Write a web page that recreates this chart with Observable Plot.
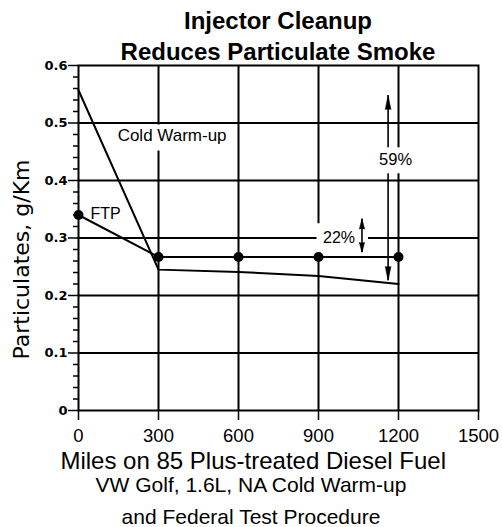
<!DOCTYPE html>
<html>
<head>
<meta charset="utf-8">
<script src="https://cdn.jsdelivr.net/npm/d3@7"></script>
<script src="https://cdn.jsdelivr.net/npm/@observablehq/plot@0.6"></script>
<style>
  html, body { margin: 0; padding: 0; background: white; }
  #wrap { position: relative; width: 502px; }
  #title { position: absolute; top: 6.3px; left: 78px; width: 400px; text-align: center;
    font-family: "Liberation Sans", Arial, sans-serif; font-weight: bold; font-size: 24px;
    line-height: 30.7px; color: black; z-index: 2; white-space: nowrap; }
  #chart svg { display: block; }
  #caption { width: 502px; text-align: center; font-family: "Liberation Sans", Arial, sans-serif;
    font-size: 21px; line-height: 31.6px; color: black; }
</style>
</head>
<body>
<div id="wrap">
  <div id="title">Injector Cleanup<br>Reduces Particulate Smoke</div>
  <div id="chart"></div>
  <div id="caption">VW Golf, 1.6L, NA Cold Warm-up<br>and Federal Test Procedure</div>
</div>
<script>
// ---- data ----
const ftpMiles = [0, 300, 600, 900, 1200];
const ftpValues = [0.340, 0.267, 0.267, 0.267, 0.267];
const coldMiles = [0, 300, 600, 900, 1200];
const coldValues = [0.557, 0.245, 0.241, 0.234, 0.220];

const xTicks = [0, 300, 600, 900, 1200, 1500];
const xTickLabels = ["0", "300", "600", "900", "1200", "1500"];
const yTicks = [0, 0.1, 0.2, 0.3, 0.4, 0.5, 0.6];
const yTickLabels = ["0", "0.1", "0.2", "0.3", "0.4", "0.5", "0.6"];
const yMinorTicks = [0.02, 0.04, 0.06, 0.08, 0.12, 0.14, 0.16, 0.18, 0.22, 0.24, 0.26, 0.28,
  0.32, 0.34, 0.36, 0.38, 0.42, 0.44, 0.46, 0.48, 0.52, 0.54, 0.56, 0.58];
const gridX = [300, 600, 900, 1200];
const gridY = [0.1, 0.2, 0.3, 0.4, 0.5];

const seriesLabelText = ["Cold Warm-up", "FTP"];
const seriesLabelX = [351, 45];
const seriesLabelY = [0.479, 0.342];

const reductionText = ["22%", "59%"];
const reductionX = [977, 1189];
const reductionY = [0.301, 0.436];

// arrows: [miles, low value, high value]
const arrow59 = {x: 1161, low: 0.226, high: 0.548};
const arrow22 = {x: 1063, low: 0.275, high: 0.333};

const xLabel = "Miles on 85 Plus-treated Diesel Fuel";
const yLabel = "Particulates, g/Km";

// ---- tables ----
const ftp = ftpMiles.map((m, i) => ({miles: m, value: ftpValues[i]}));
const cold = coldMiles.map((m, i) => ({miles: m, value: coldValues[i]}));
const coldLabel = [{text: seriesLabelText[0], x: seriesLabelX[0], y: seriesLabelY[0]}];
const ftpLabel = [{text: seriesLabelText[1], x: seriesLabelX[1], y: seriesLabelY[1]}];
const lab22 = [{text: reductionText[0], x: reductionX[0], y: reductionY[0]}];
const lab59 = [{text: reductionText[1], x: reductionX[1], y: reductionY[1]}];
const heads = (a) => [{x: a.x, y: a.high, rot: 0}, {x: a.x, y: a.low, rot: 180}];

const box = (data, l, r, t, b) => Plot.rect(data, {
  x1: "x", x2: "x", y1: "y", y2: "y", fill: "white",
  insetLeft: -l, insetRight: -r, insetTop: -t, insetBottom: -b
});

const chart = Plot.plot({
  width: 502, height: 469,
  marginTop: 65, marginBottom: 59, marginLeft: 78, marginRight: 24,
  style: {fontFamily: "'Liberation Sans', Arial, sans-serif", background: "transparent", overflow: "visible", color: "black"},
  x: {domain: [0, 1500]},
  y: {domain: [0, 0.6]},
  marks: [
    Plot.ruleY(gridY, {stroke: "black", strokeWidth: 2}),
    Plot.ruleX(gridX, {stroke: "black", strokeWidth: 2}),
    // 59% arrow (shaft broken by its label box)
    Plot.ruleX([arrow59], {x: "x", y1: "low", y2: "high", stroke: "black", strokeWidth: 1.6}),
    Plot.vector(heads(arrow59), {x: "x", y: "y", rotate: "rot", length: 14, r: 2.8, shape: "spike", anchor: "end", fill: "black", stroke: "black", strokeWidth: 0.6}),
    // white label boxes
    box(coldLabel, 56, 56, 10, 16),
    box(lab22, 22, 29.5, 13.7, 15),
    box(lab59, 18, 18, 12, 14),
    // labels
    Plot.text(coldLabel, {x: "x", y: "y", text: "text", fontSize: 17, textAnchor: "middle"}),
    Plot.text(ftpLabel, {x: "x", y: "y", text: "text", fontSize: 16, textAnchor: "start"}),
    Plot.text(lab22, {x: "x", y: "y", text: "text", fontSize: 16, textAnchor: "middle"}),
    Plot.text(lab59, {x: "x", y: "y", text: "text", fontSize: 16.5, textAnchor: "middle"}),
    // data
    Plot.line(cold, {x: "miles", y: "value", stroke: "black", strokeWidth: 2}),
    Plot.line(ftp, {x: "miles", y: "value", stroke: "black", strokeWidth: 2}),
    Plot.dot(ftp, {x: "miles", y: "value", r: 5, fill: "black", stroke: "none"}),
    // 22% arrow
    Plot.ruleX([arrow22], {x: "x", y1: "low", y2: "high", stroke: "black", strokeWidth: 1.6}),
    Plot.vector(heads(arrow22), {x: "x", y: "y", rotate: "rot", length: 10, r: 2.6, shape: "spike", anchor: "end", fill: "black", stroke: "black", strokeWidth: 0.6}),
    // frame and axes
    Plot.frame({stroke: "black", strokeWidth: 2}),
    Plot.axisX(xTicks, {tickSize: 10, tickPadding: 8.6, fontSize: 18.5, label: null, strokeWidth: 1.5,
      tickFormat: d => xTickLabels[xTicks.indexOf(d)]}),
    Plot.axisY(yTicks, {tickSize: 10, tickPadding: 1, fontSize: 13, fontWeight: "bold",
      fontFamily: "'DejaVu Sans', sans-serif", label: null, strokeWidth: 1.5,
      tickFormat: d => yTickLabels[yTicks.indexOf(d)]}),
    Plot.axisY(yMinorTicks, {tickSize: 5, label: null, strokeWidth: 1.5, tickFormat: () => ""}),
    // axis titles
    Plot.text([xLabel], {frameAnchor: "bottom", text: d => d, fontSize: 24, textAnchor: "middle", lineAnchor: "middle", dy: 50.6, dx: -25.3}),
    Plot.text([yLabel], {frameAnchor: "left", text: d => d, fontSize: 22, fontFamily: "'DejaVu Sans', sans-serif",
      rotate: -90, textAnchor: "middle", lineAnchor: "middle", dx: -57, dy: 21.5})
  ]
});
document.getElementById("chart").appendChild(chart);
</script>
</body>
</html>
